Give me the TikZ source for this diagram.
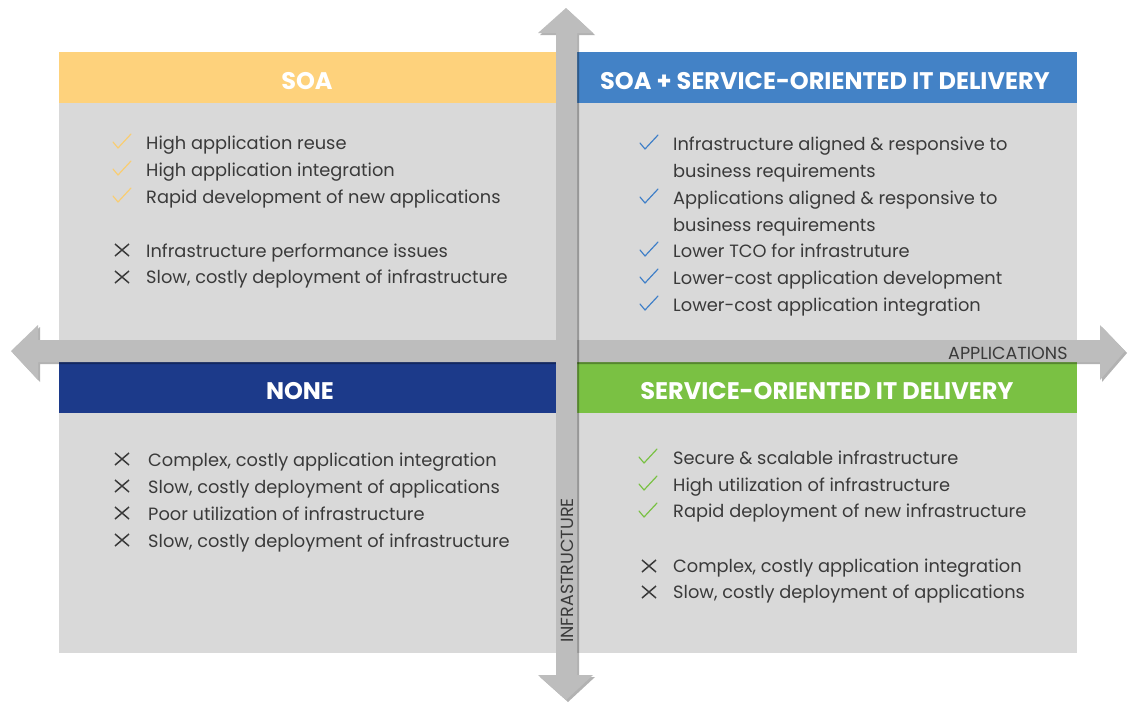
\documentclass[tikz,border=0pt]{standalone}
\usepackage{fontspec}
\setmainfont{Poppins}
\usetikzlibrary{shadows}
\definecolor{soayellow}{HTML}{FED27C}
\definecolor{soablue}{HTML}{4382C6}
\definecolor{nonenavy}{HTML}{1C3A8A}
\definecolor{itgreen}{HTML}{7AC143}
\definecolor{panelgray}{HTML}{D9D9D9}
\definecolor{arrowgray}{HTML}{BDBDBD}
\definecolor{txtgray}{HTML}{3A3A3A}
\definecolor{tickyellow}{HTML}{F9CD72}
\definecolor{tickblue}{HTML}{3F7FC8}
\definecolor{tickgreen}{HTML}{79C143}
\tikzset{
  tick/.pic={\draw[line width=1.2pt, line cap=round, line join=round, pic actions]
    (-9,0) -- (-4,6) -- (9,-8);},
  cross/.pic={\draw[line width=1.5pt, pic actions]
    (-7,-6) -- (7,6) (-7,6) -- (7,-6);}
}
\begin{document}
\begin{tikzpicture}[x=1pt,y=-1pt,
  headtext/.style={text=white, inner sep=0pt, font=\fontsize{24}{24}\selectfont\bfseries},
  entry/.style={anchor=base west, text=txtgray, inner sep=0pt, font=\fontsize{17.8}{17.8}\selectfont},
  axisarrow/.style={fill=arrowgray, draw=none,
    drop shadow={shadow xshift=2pt, shadow yshift=-2pt, opacity=0.3, fill=black}},
  axislabel/.style={text=txtgray, inner sep=0pt, font=\fontsize{17.5}{17.5}\selectfont}
]
\useasboundingbox[fill=white] (0,0) rectangle (1131,705);

% quadrant panels
\fill[panelgray] (59,103) rectangle (556,342);
\fill[panelgray] (577,103) rectangle (1077,342);
\fill[panelgray] (59,413) rectangle (556,653);
\fill[panelgray] (577,413) rectangle (1077,653);

% quadrant headers
\fill[soayellow] (59,52) rectangle (556,103);
\fill[soablue] (577,52) rectangle (1077,103);
\fill[nonenavy] (59,362) rectangle (556,413);
\fill[itgreen] (577,362) rectangle (1077,413);
\node[headtext] (hsoa) at (307,81) {SOA};
\node[headtext] (hboth) at (825,81) {SOA + SERVICE-ORIENTED IT DELIVERY};
\node[headtext] (hnone) at (300,391) {NONE};
\node[headtext] (hit) at (827,391) {SERVICE-ORIENTED IT DELIVERY};

% axes
\path[axisarrow] (11,351) -- (38,325) -- (38,340) -- (1100,340) -- (1100,325)
  -- (1125,351) -- (1100,380) -- (1100,362) -- (38,362) -- (38,380) -- cycle;
\path[axisarrow] (566,8) -- (593,33) -- (577,33) -- (577,675) -- (593,675)
  -- (566,700) -- (538,675) -- (556,675) -- (556,33) -- (538,33) -- cycle;
\node[axislabel, anchor=base west] (xlab) at (948,359) {APPLICATIONS};
\node[axislabel, anchor=base west, rotate=90] (ylab) at (573,643) {INFRASTRUCTURE};

% SOA
\node[entry] (a1) at (146,149) {High application reuse};
\node[entry] (a2) at (146,176) {High application integration};
\node[entry] (a3) at (146,203) {Rapid development of new applications};
\node[entry] (a4) at (146,257) {Infrastructure performance issues};
\node[entry] (a5) at (146,283) {Slow, costly deployment of infrastructure};
\pic[draw=tickyellow] at (122,142) {tick};
\pic[draw=tickyellow] at (122,169) {tick};
\pic[draw=tickyellow] at (122,196) {tick};
\pic[draw=txtgray] at (122,250) {cross};
\pic[draw=txtgray] at (122,277) {cross};

% SOA + service-oriented IT delivery
\node[entry] (b1) at (673,150) {Infrastructure aligned \& responsive to};
\node[entry] (b1c) at (673,177) {business requirements};
\node[entry] (b2) at (673,204) {Applications aligned \& responsive to};
\node[entry] (b2c) at (673,231) {business requirements};
\node[entry] (b3) at (673,257) {Lower TCO for infrastruture};
\node[entry] (b4) at (673,284) {Lower-cost application development};
\node[entry] (b5) at (673,311) {Lower-cost application integration};
\pic[draw=tickblue] at (649,143) {tick};
\pic[draw=tickblue] at (649,197) {tick};
\pic[draw=tickblue] at (649,250) {tick};
\pic[draw=tickblue] at (649,277) {tick};
\pic[draw=tickblue] at (649,304) {tick};

% None
\node[entry] (c1) at (148,466) {Complex, costly application integration};
\node[entry] (c2) at (148,493) {Slow, costly deployment of applications};
\node[entry] (c3) at (148,520) {Poor utilization of infrastructure};
\node[entry] (c4) at (148,547) {Slow, costly deployment of infrastructure};
\pic[draw=txtgray] at (122,459) {cross};
\pic[draw=txtgray] at (122,486) {cross};
\pic[draw=txtgray] at (122,513) {cross};
\pic[draw=txtgray] at (122,540) {cross};

% Service-oriented IT delivery
\node[entry] (d1) at (673,464) {Secure \& scalable infrastructure};
\node[entry] (d2) at (673,491) {High utilization of infrastructure};
\node[entry] (d3) at (673,517) {Rapid deployment of new infrastructure};
\node[entry] (d4) at (673,572) {Complex, costly application integration};
\node[entry] (d5) at (673,598) {Slow, costly deployment of applications};
\pic[draw=tickgreen] at (648,457) {tick};
\pic[draw=tickgreen] at (648,484) {tick};
\pic[draw=tickgreen] at (648,511) {tick};
\pic[draw=txtgray] at (649,566) {cross};
\pic[draw=txtgray] at (649,592) {cross};
\end{tikzpicture}
\end{document}
